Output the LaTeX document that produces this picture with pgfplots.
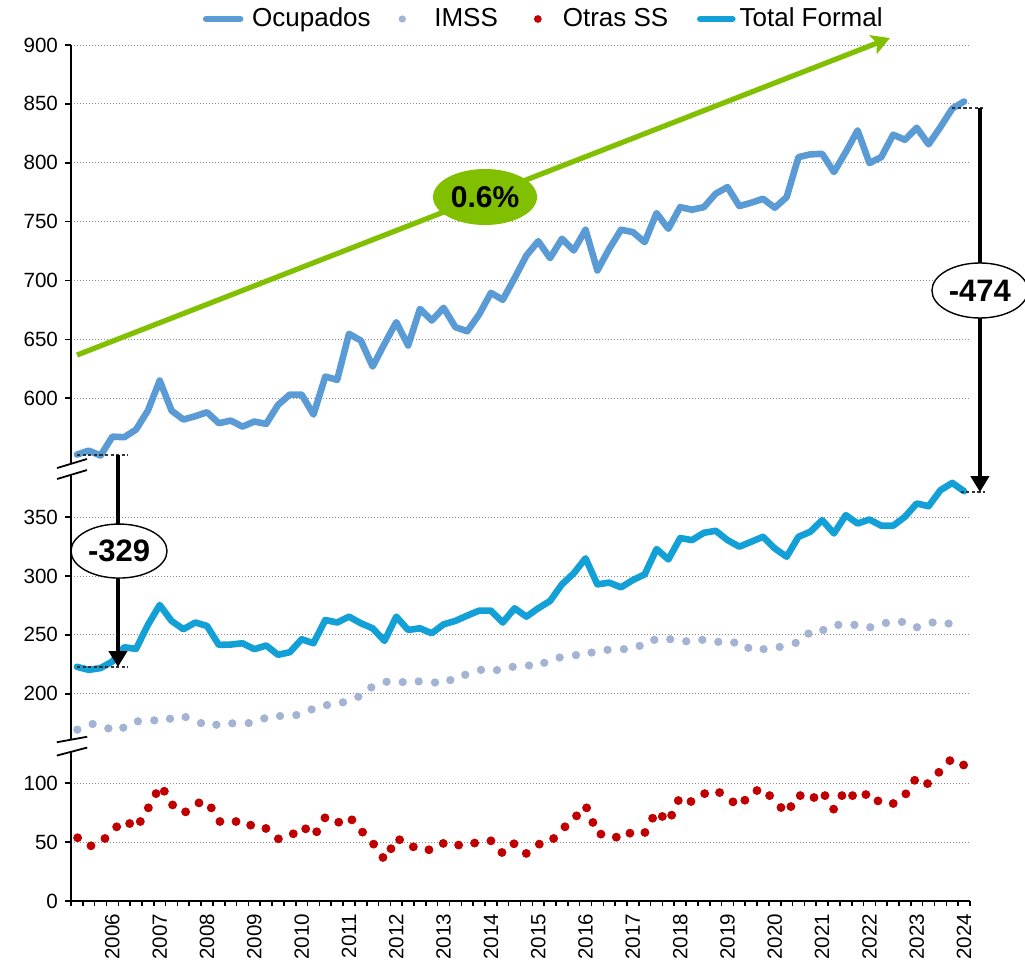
\documentclass[border=0pt]{standalone}
\usepackage{fontspec}
\setmainfont{Liberation Sans}
\usepackage{pgfplots}
\pgfplotsset{compat=1.18}
\usetikzlibrary{arrows.meta,shapes.geometric}
\definecolor{Ocup}{HTML}{5B9BD5}
\definecolor{TotF}{HTML}{12A0D7}
\definecolor{Imss}{HTML}{A2B3D3}
\definecolor{Otras}{HTML}{C00000}
\definecolor{Verde}{HTML}{80C000}
\definecolor{GridG}{HTML}{8C8C8C}

% broken y axis: 0-120 as is, 160-370 shifted by 24, 550-900 shifted by 173
\pgfplotsset{brk/.style={y filter/.expression={y>500 ? y-173 : (y>150 ? y-24 : y)}}}

\begin{document}
\begin{tikzpicture}
\begin{axis}[
  width=449.5pt, height=428pt, scale only axis,
  xmin=0, xmax=76, ymin=0, ymax=727,
  clip=false,
  axis x line=bottom, axis y line=left,
  x axis line style={-, line width=0.9pt},
  y axis line style={draw=none},
  tick align=outside,
  tick style={black, line width=0.8pt},
  major tick length=3pt,
  minor tick length=2.5pt,
  xtick={3.5,7.5,...,75.5},
  xticklabels={2006,2007,2008,2009,2010,2011,2012,2013,2014,2015,2016,2017,2018,2019,2020,2021,2022,2023,2024},
  major x tick style={draw=none},
  minor xtick={0,1,...,76},
  xticklabel style={rotate=90, anchor=east, font=\fontsize{10.3}{12}\selectfont},
  ytick={0,50,100,176,226,276,326,427,477,527,577,627,677,727},
  yticklabels={0,50,100,200,250,300,350,600,650,700,750,800,850,900},
  yticklabel style={font=\fontsize{10.3}{12}\selectfont},
  ymajorgrids,
  grid style={GridG, line width=0.5pt, dash pattern=on 0.6pt off 0.9pt},
  legend columns=4,
  legend style={at={(0.527,1)}, anchor=center, yshift=13pt, draw=none, fill=none,
    font=\fontsize{13}{15}\selectfont,
    /tikz/every even column/.append style={column sep=12pt}},
]
\addplot[Ocup, line width=3.3pt, line join=round, line cap=round, brk,
  legend image code/.code={\draw[Ocup, line width=3.3pt, line cap=round] (0pt,0pt) -- (17pt,0pt);
    \path[draw=none] (0pt,0pt) -- (21pt,0pt);}] table {
x y
0.5 552.1
1.5 555.5
2.5 551.3
3.5 567.4
4.5 566.9
5.5 573.4
6.5 589.5
7.5 615.0
8.5 589.5
9.5 581.9
10.5 584.7
11.5 588.1
12.5 578.8
13.5 581.0
14.5 575.9
15.5 580.2
16.5 578.2
17.5 594.3
18.5 603.1
19.5 603.1
20.5 586.1
21.5 618.4
22.5 615.6
23.5 654.7
24.5 649.0
25.5 626.9
26.5 646.2
27.5 664.6
28.5 644.8
29.5 675.9
30.5 666.0
31.5 676.8
32.5 660.3
33.5 656.9
34.5 671.1
35.5 689.5
36.5 683.6
37.5 702.0
38.5 721.2
39.5 733.4
40.5 719.0
41.5 735.4
42.5 725.5
43.5 743.1
44.5 708.5
45.5 726.9
46.5 743.1
47.5 741.1
48.5 732.6
49.5 757.2
50.5 743.9
51.5 762.3
52.5 760.1
53.5 762.3
54.5 773.7
55.5 779.3
56.5 763.2
57.5 766.0
58.5 769.4
59.5 761.8
60.5 770.8
61.5 804.8
62.5 807.1
63.5 807.6
64.5 792.1
65.5 809.1
66.5 827.5
67.5 799.7
68.5 804.8
69.5 823.8
70.5 819.5
71.5 829.7
72.5 815.6
73.5 830.3
74.5 846.0
75.5 852.0
};
\addlegendentry{Ocupados}
\addplot[only marks, mark=*, mark size=1.85pt, mark options={draw=Imss, fill=Imss}, brk,
  legend image code/.code={\fill[Imss] (0pt,0pt) circle (1.6pt);
    \path[draw=none] (-1.6pt,0pt) -- (14pt,0pt);}] coordinates {
(0.54,169.5)(1.83,174.3)(3.16,170.6)(4.42,171.2)(5.66,176.6)(7.04,177.4)(8.37,178.8)
(9.69,180.2)(10.99,175.1)(12.29,173.7)(13.64,174.9)(15.02,175.1)(16.34,179.1)(17.67,181.1)
(19.05,181.9)(20.34,186.7)(21.64,190.4)(22.99,192.7)(24.29,197.5)(25.39,205.4)(26.68,210.2)
(28.04,209.9)(29.39,210.5)(30.77,209.6)(32.07,211.6)(33.33,216.1)(34.66,220.3)(36.01,220.1)
(37.34,222.9)(38.72,224.0)(40.01,226.3)(41.31,230.8)(42.69,232.8)(44.01,235.0)(45.36,237.3)
(46.74,237.9)(48.07,240.7)(49.31,245.8)(50.66,246.3)(52.01,244.6)(53.37,245.8)(54.72,244.1)
(56.07,243.5)(57.26,239.0)(58.55,237.9)(59.91,239.8)(61.26,243.2)(62.34,251.1)(63.60,254.2)
(64.87,258.5)(66.23,258.5)(67.57,256.5)(68.89,260.2)(70.25,261.0)(71.52,256.5)(72.84,260.5)
(74.19,259.6)
};
\addlegendentry{IMSS}
\addplot[only marks, mark=*, mark size=2pt, mark options={draw=Otras, fill=Otras}, brk,
  legend image code/.code={\fill[Otras] (0pt,0pt) circle (1.7pt);
    \path[draw=none] (-6pt,0pt) -- (10.5pt,0pt);}] coordinates {
(0.56,53.7)(1.69,46.9)(2.87,53.1)(3.86,63.0)(4.96,65.8)(5.86,67.5)(6.54,79.1)(7.19,91.2)
(7.89,93.2)(8.59,81.6)(9.69,75.7)(10.82,83.3)(11.86,79.1)(12.59,67.5)(13.95,67.5)(15.19,64.4)
(16.48,61.6)(17.53,52.8)(18.79,57.1)(19.84,61.3)(20.77,58.8)(21.47,70.6)(22.63,66.9)(23.75,68.9)
(24.65,58.5)(25.58,48.3)(26.37,37.0)(27.05,44.4)(27.78,52.0)(28.94,46.0)(30.26,43.5)(31.47,48.9)
(32.77,47.5)(34.12,49.2)(35.50,51.1)(36.43,41.2)(37.45,48.6)(38.49,40.4)(39.59,48.3)(40.80,53.1)
(41.76,63.0)(42.74,72.3)(43.59,79.1)(44.12,66.7)(44.80,56.8)(46.10,54.2)(47.25,57.6)(48.52,58.2)
(49.17,70.3)(49.99,71.8)(50.78,72.9)(51.34,85.3)(52.41,84.5)(53.57,91.2)(54.83,92.1)(55.96,84.2)
(56.97,85.6)(57.99,93.8)(59.06,89.5)(60.02,79.4)(60.86,80.2)(61.65,89.5)(62.81,87.9)(63.74,89.5)
(64.47,78.0)(65.17,89.5)(66.07,89.5)(67.20,90.4)(68.22,85.0)(69.51,82.8)(70.58,91.0)(71.32,102.5)
(72.41,99.7)(73.37,109.3)(74.30,119.2)(75.46,115.5)
};
\addlegendentry{Otras SS}
\addplot[TotF, line width=3.3pt, line join=round, line cap=round, brk,
  legend image code/.code={\draw[TotF, line width=3.3pt, line cap=round] (0pt,0pt) -- (16pt,0pt);
    \path[draw=none] (-2pt,0pt) -- (17pt,0pt);}] table {
x y
0.5 222.9
1.5 220.3
2.5 221.8
3.5 227.4
4.5 239.5
5.5 238.1
6.5 258.5
7.5 275.4
8.5 261.9
9.5 254.8
10.5 260.5
11.5 257.6
12.5 241.5
13.5 241.8
14.5 242.9
15.5 237.9
16.5 241.0
17.5 233.1
18.5 235.3
19.5 246.3
20.5 242.9
21.5 262.7
22.5 260.5
23.5 265.5
24.5 259.9
25.5 255.6
26.5 244.9
27.5 265.5
28.5 254.2
29.5 255.6
30.5 251.4
31.5 259.0
32.5 261.9
33.5 266.4
34.5 270.6
35.5 270.6
36.5 260.5
37.5 272.6
38.5 265.5
39.5 272.6
40.5 278.8
41.5 292.9
42.5 302.3
43.5 315.0
44.5 292.9
45.5 294.4
46.5 290.4
47.5 296.6
48.5 301.4
49.5 322.9
50.5 314.1
51.5 332.2
52.5 330.5
53.5 336.7
54.5 338.4
55.5 330.5
56.5 324.9
57.5 329.1
58.5 333.3
59.5 323.4
60.5 316.4
61.5 333.3
62.5 337.6
63.5 347.5
64.5 336.2
65.5 351.7
66.5 344.6
67.5 348.0
68.5 342.7
69.5 342.7
70.5 350.3
71.5 361.6
72.5 359.3
73.5 372.9
74.5 379.1
75.5 372.0
};
\addlegendentry{Total Formal}

% y axis with breaks
\draw[line width=0.9pt] (axis cs:0,0) -- (axis cs:0,126.7);
\draw[line width=0.9pt] (axis cs:0,137) -- (axis cs:0,362);
\draw[line width=0.9pt] (axis cs:0,371.3) -- (axis cs:0,727);
\draw[line width=0.9pt] (axis cs:-1.18,367.7) -- (axis cs:1.35,375.4);
\draw[line width=0.9pt] (axis cs:-1.18,358.4) -- (axis cs:1.35,366.0);
\draw[line width=0.9pt] (axis cs:-1.2,134.8) -- (axis cs:1.37,139.5);
\draw[line width=0.9pt] (axis cs:-1.2,123.5) -- (axis cs:1.37,130.3);

% growth arrow
\draw[Verde, line width=2.6pt, -{Stealth[length=9pt,width=10pt,inset=2pt]}]
  (axis cs:0.51,463.7) -- (axis cs:69.23,732.9);
\node[ellipse, fill=Verde, minimum width=52pt, minimum height=28pt, inner sep=0pt,
  font=\fontsize{15}{18}\selectfont\bfseries] at (axis cs:35.0,597.9) {0.6\%};

% gap 2006
\draw[black!80, line width=0.6pt, dash pattern=on 1.6pt off 1.2pt] (axis cs:0.5,378.8) -- (axis cs:4.8,378.8);
\draw[black!80, line width=0.6pt, dash pattern=on 1.6pt off 1.2pt] (axis cs:0.5,198.7) -- (axis cs:4.8,198.7);
\draw[line width=2pt, -{Triangle[length=8pt,width=9pt]}] (axis cs:3.97,378.8) -- (axis cs:3.97,198.7);
\node[ellipse, draw, fill=white, line width=0.7pt, minimum width=48pt, minimum height=27pt, inner sep=0pt,
  font=\fontsize{15.5}{18}\selectfont\bfseries] at (axis cs:4.06,297.2) {-329};

% gap 2024
\draw[black!80, line width=0.6pt, dash pattern=on 1.6pt off 1.2pt] (axis cs:74.5,673.5) -- (axis cs:77.3,673.5);
\draw[black!80, line width=0.6pt, dash pattern=on 1.6pt off 1.2pt] (axis cs:75.2,347.3) -- (axis cs:77.3,347.3);
\draw[line width=2pt, -{Triangle[length=8pt,width=9pt]}] (axis cs:76.84,673.5) -- (axis cs:76.84,347.3);
\node[ellipse, draw, fill=white, line width=0.7pt, minimum width=48pt, minimum height=27.5pt, inner sep=0pt,
  font=\fontsize{15.5}{18}\selectfont\bfseries] at (axis cs:76.84,518.5) {-474};
\end{axis}
\pgfresetboundingbox
\path[use as bounding box] ([shift={(-35.5pt,-31.5pt)}]current axis.south west) rectangle ++(512.5pt,482pt);
\end{tikzpicture}
\end{document}
